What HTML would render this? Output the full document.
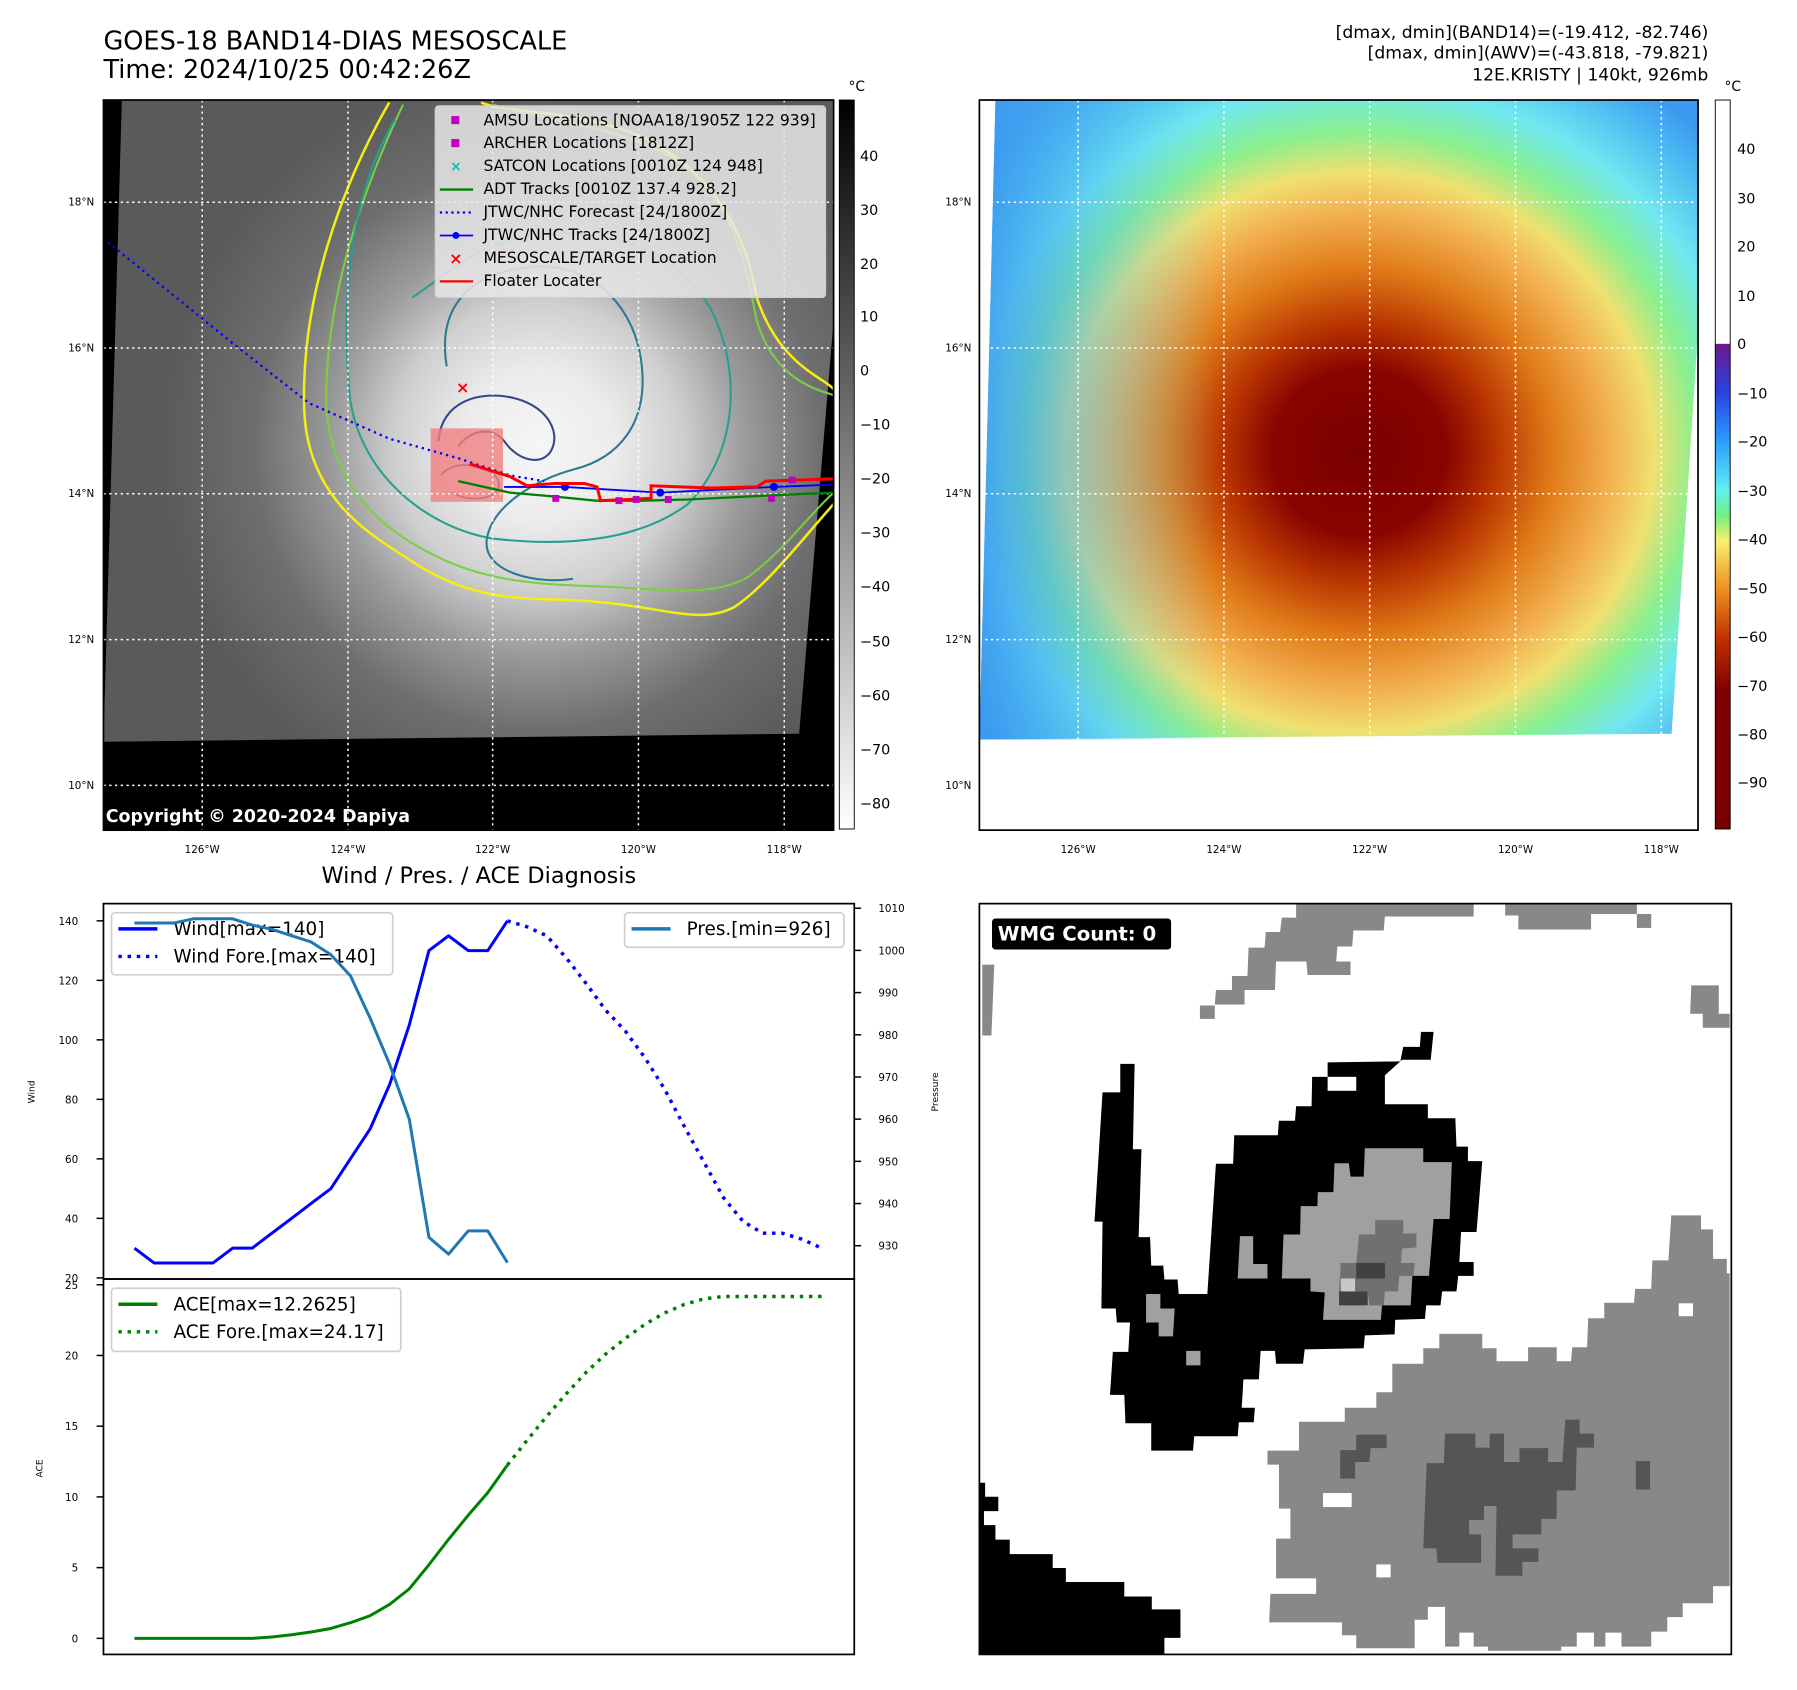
<!DOCTYPE html>
<html><head><meta charset="utf-8"><title>GOES-18 BAND14 KRISTY</title>
<style>
html,body{margin:0;padding:0;background:#fff;}
svg{display:block;font-family:"DejaVu Sans","Liberation Sans",sans-serif;}
</style></head>
<body>
<svg id="root" xmlns="http://www.w3.org/2000/svg" width="1797" height="1690" viewBox="0 0 1797 1690">
<defs>
<radialGradient id="irGray" gradientUnits="userSpaceOnUse" cx="470" cy="390" r="330">
<stop offset="0" stop-color="#f6f6f6"/><stop offset="0.2" stop-color="#ececec"/><stop offset="0.38" stop-color="#cfcfcf"/><stop offset="0.55" stop-color="#9a9a9a"/><stop offset="0.75" stop-color="#6e6e6e"/><stop offset="1" stop-color="#5a5a5a"/>
</radialGradient>
<radialGradient id="irColor" gradientUnits="userSpaceOnUse" cx="1185" cy="395" r="400" gradientTransform="translate(1185 395) scale(1.05 1) translate(-1185 -395)">
<stop offset="0" stop-color="#7a0000"/><stop offset="0.18" stop-color="#880400"/><stop offset="0.28" stop-color="#b83400"/><stop offset="0.4" stop-color="#e07a18"/><stop offset="0.52" stop-color="#f2b050"/><stop offset="0.61" stop-color="#f0e070"/><stop offset="0.7" stop-color="#88f090"/><stop offset="0.8" stop-color="#70e8f0"/><stop offset="0.93" stop-color="#48b4f2"/><stop offset="1" stop-color="#3a98f0"/>
</radialGradient>
<linearGradient id="leftBlue" gradientUnits="userSpaceOnUse" x1="854" y1="0" x2="1060" y2="0">
<stop offset="0" stop-color="#3a98f0" stop-opacity="0.85"/><stop offset="1" stop-color="#60d8f0" stop-opacity="0"/>
</linearGradient>
<linearGradient id="cbGray" x1="0" y1="0" x2="0" y2="1"><stop offset="0" stop-color="#000"/><stop offset="1" stop-color="#fff"/></linearGradient>
<linearGradient id="cbColor" gradientUnits="userSpaceOnUse" x1="0" y1="88" x2="0" y2="723">
<stop offset="0" stop-color="#fff"/><stop offset="0.334" stop-color="#fff"/><stop offset="0.335" stop-color="#6a1a8a"/><stop offset="0.4" stop-color="#2a40e0"/><stop offset="0.47" stop-color="#2aa0ff"/><stop offset="0.535" stop-color="#60f0f0"/><stop offset="0.57" stop-color="#70f080"/><stop offset="0.605" stop-color="#f6f070"/><stop offset="0.67" stop-color="#f09020"/><stop offset="0.74" stop-color="#c03000"/><stop offset="0.81" stop-color="#800000"/><stop offset="1" stop-color="#7a0000"/>
</linearGradient>
</defs>
<g transform="translate(-1,-1) scale(1.148)">
<text x="91" y="44" font-size="22.3">GOES-18 BAND14-DIAS MESOSCALE</text>
<text x="91" y="69" font-size="22.3">Time: 2024/10/25 00:42:26Z</text>
<g font-size="15" text-anchor="end">
<text x="1489" y="34">[dmax, dmin](BAND14)=(-19.412, -82.746)</text>
<text x="1489" y="52">[dmax, dmin](AWV)=(-43.818, -79.821)</text>
<text x="1489" y="71">12E.KRISTY | 140kt, 926mb</text>
</g>

<g>
<clipPath id="c1"><rect x="91" y="88" width="636" height="636"/></clipPath>
<rect x="91" y="88" width="636" height="636" fill="#000"/>
<g clip-path="url(#c1)">
<polygon points="107,88 727,88 727,280 697,640 91,647" fill="url(#irGray)"/>
<g fill="none" stroke-linejoin="round">
<path d="M340,90 C300,160 262,260 266,360 C270,440 330,470 360,490 C420,530 470,520 520,525 C580,530 610,545 640,530 C670,510 700,470 727,440 M420,90 C440,100 500,95 560,120 C620,150 650,200 660,260 C680,320 720,330 727,340" stroke="#f5ee10" stroke-width="2.2"/>
<path d="M352,92 C315,170 285,260 285,350 C288,430 340,465 380,485 C430,510 480,510 530,512 C585,515 620,520 650,505 C680,485 705,450 727,430 M430,92 C470,105 540,110 590,140 C640,175 650,230 660,280 C675,330 710,340 727,345" stroke="#7ad040" stroke-width="1.8"/>
<path d="M345,105 C300,180 300,280 305,340 C310,410 370,460 430,470 C500,478 560,470 600,440 C640,400 650,330 620,270 C590,220 540,200 470,205 C420,210 390,240 360,260" stroke="#25a090" stroke-width="1.8"/>
<path d="M390,320 C380,260 420,235 470,233 C520,232 555,270 560,320 C565,370 540,400 500,410 C470,418 430,440 425,470 C420,500 470,510 500,505" stroke="#2a7a90" stroke-width="1.8"/>
<path d="M383,385 C385,350 420,340 450,348 C480,356 490,380 480,395 C470,408 450,400 440,385 C430,372 410,375 400,390" stroke="#34478a" stroke-width="1.8"/>
<path d="M385,415 C395,400 430,405 435,420 C440,435 410,440 395,430" stroke="#34478a" stroke-width="1.6"/>
</g>
<rect x="376" y="374" width="63" height="64" fill="#f08080" opacity="0.8"/>
<g stroke="#fff" stroke-width="1.3" stroke-dasharray="2,3">
<line x1="91" y1="177" x2="727" y2="177"/><line x1="91" y1="304" x2="727" y2="304"/><line x1="91" y1="431" x2="727" y2="431"/><line x1="91" y1="558" x2="727" y2="558"/><line x1="91" y1="685" x2="727" y2="685"/>
<line x1="177" y1="88" x2="177" y2="724"/><line x1="304" y1="88" x2="304" y2="724"/><line x1="430" y1="88" x2="430" y2="724"/><line x1="557" y1="88" x2="557" y2="724"/><line x1="684" y1="88" x2="684" y2="724"/>
</g>
<polyline points="95,212 200,297 270,352 340,383 400,400 445,415 475,420" fill="none" stroke="#0000ff" stroke-width="2" stroke-dasharray="2,3.5"/>
<polyline points="400,420 445,430 480,433 520,437 560,437 600,436 640,434 680,432 727,430" fill="none" stroke="#008000" stroke-width="2"/>
<polyline points="440,425 493,425 576,430 675,425 727,423" fill="none" stroke="#0000ff" stroke-width="1.6"/>
<g fill="#0000ff"><circle cx="493" cy="425" r="3.5"/><circle cx="576" cy="430" r="3.5"/><circle cx="675" cy="425" r="3.5"/></g>
<polyline points="410,405 445,416 460,424 484,422 510,422 521,425 524,437 568,435 568,424 620,426 660,425 668,420 727,418" fill="none" stroke="#ff0000" stroke-width="2.6"/>
<g fill="#c000c0"><rect x="482" y="432" width="6" height="6"/><rect x="537" y="434" width="6" height="6"/><rect x="552" y="433" width="6" height="6"/><rect x="580" y="433" width="6" height="6"/><rect x="670" y="432" width="6" height="6"/><rect x="688" y="416" width="6" height="6"/></g>
<text x="404" y="343" font-size="14" font-weight="bold" fill="#ff0000" text-anchor="middle">×</text>
</g>
<text x="93" y="717" font-size="15.2" font-weight="bold" fill="#fff">Copyright © 2020-2024 Dapiya</text>
<rect x="91" y="88" width="636" height="636" fill="none" stroke="#000" stroke-width="1.5"/>
<g>
<rect x="380" y="93" width="340" height="167" rx="3" fill="#e8e8e8" fill-opacity="0.85" stroke="#d0d0d0"/>
<g font-size="13.6">
<rect x="394" y="102" width="7" height="7" fill="#c000c0"/><text x="422" y="110">AMSU Locations [NOAA18/1905Z 122 939]</text>
<rect x="394" y="122" width="7" height="7" fill="#c000c0"/><text x="422" y="130">ARCHER Locations [1812Z]</text>
<text x="398" y="150" fill="#00c0c0" text-anchor="middle" font-weight="bold" font-size="12">×</text><text x="422" y="150">SATCON Locations [0010Z 124 948]</text>
<line x1="384" y1="166" x2="413" y2="166" stroke="#008000" stroke-width="2"/><text x="422" y="170">ADT Tracks [0010Z 137.4 928.2]</text>
<line x1="384" y1="186" x2="413" y2="186" stroke="#0000ff" stroke-width="2" stroke-dasharray="2,3"/><text x="422" y="190">JTWC/NHC Forecast [24/1800Z]</text>
<line x1="384" y1="206" x2="413" y2="206" stroke="#0000ff" stroke-width="1.6"/><circle cx="398" cy="206" r="3" fill="#0000ff"/><text x="422" y="210">JTWC/NHC Tracks [24/1800Z]</text>
<text x="398" y="231" fill="#ff0000" text-anchor="middle" font-weight="bold" font-size="14">×</text><text x="422" y="230">MESOSCALE/TARGET Location</text>
<line x1="384" y1="246" x2="413" y2="246" stroke="#ff0000" stroke-width="2"/><text x="422" y="250">Floater Locater</text>
</g></g>
<g font-size="9">
<g text-anchor="end"><text x="83" y="180">18°N</text><text x="83" y="307">16°N</text><text x="83" y="434">14°N</text><text x="83" y="561">12°N</text><text x="83" y="688">10°N</text></g>
<g text-anchor="middle"><text x="177" y="744">126°W</text><text x="304" y="744">124°W</text><text x="430" y="744">122°W</text><text x="557" y="744">120°W</text><text x="684" y="744">118°W</text></g>
</g>
</g>
<g>
<rect x="732" y="88" width="13" height="635" fill="url(#cbGray)" stroke="#000" stroke-width="0.8"/>
<text x="740" y="80" font-size="12">°C</text>
<g font-size="12.5"><text x="750" y="141">40</text><text x="750" y="188">30</text><text x="750" y="235">20</text><text x="750" y="281">10</text><text x="750" y="328">0</text><text x="750" y="375">−10</text><text x="750" y="422">−20</text><text x="750" y="469">−30</text><text x="750" y="516">−40</text><text x="750" y="564">−50</text><text x="750" y="611">−60</text><text x="750" y="658">−70</text><text x="750" y="705">−80</text></g>
</g>

<g>
<polygon points="868,88 1480,88 1480,290 1457,640 854,645" fill="url(#irColor)"/>
<polygon points="868,88 1060,88 1060,645 854,645" fill="url(#leftBlue)"/>
<g stroke="#fff" stroke-width="1.3" stroke-dasharray="2,3">
<line x1="854" y1="177" x2="1480" y2="177"/><line x1="854" y1="304" x2="1480" y2="304"/><line x1="854" y1="431" x2="1480" y2="431"/><line x1="854" y1="558" x2="1480" y2="558"/>
<line x1="940" y1="88" x2="940" y2="645"/><line x1="1067" y1="88" x2="1067" y2="645"/><line x1="1194" y1="88" x2="1194" y2="645"/><line x1="1321" y1="88" x2="1321" y2="645"/><line x1="1448" y1="88" x2="1448" y2="645"/>
</g>
<rect x="854" y="88" width="626" height="636" fill="none" stroke="#000" stroke-width="1.5"/>
<g font-size="9">
<g text-anchor="end"><text x="847" y="180">18°N</text><text x="847" y="307">16°N</text><text x="847" y="434">14°N</text><text x="847" y="561">12°N</text><text x="847" y="688">10°N</text></g>
<g text-anchor="middle"><text x="940" y="744">126°W</text><text x="1067" y="744">124°W</text><text x="1194" y="744">122°W</text><text x="1321" y="744">120°W</text><text x="1448" y="744">118°W</text></g>
</g>
</g>
<g>
<rect x="1495" y="88" width="13" height="635" fill="url(#cbColor)" stroke="#000" stroke-width="0.8"/>
<text x="1503" y="80" font-size="12">°C</text>
<g font-size="12.5"><text x="1514" y="135">40</text><text x="1514" y="178">30</text><text x="1514" y="220">20</text><text x="1514" y="263">10</text><text x="1514" y="305">0</text><text x="1514" y="348">−10</text><text x="1514" y="390">−20</text><text x="1514" y="433">−30</text><text x="1514" y="475">−40</text><text x="1514" y="518">−50</text><text x="1514" y="560">−60</text><text x="1514" y="603">−70</text><text x="1514" y="645">−80</text><text x="1514" y="687">−90</text></g>
</g>

<text x="418" y="770" font-size="19.5" text-anchor="middle">Wind / Pres. / ACE Diagnosis</text>
<g id="chart"></g>

<g>
<rect x="854" y="788" width="655" height="654" fill="#fff"/>
<g transform="translate(854,788) scale(0.4989,0.4504) translate(-137,-45)" stroke="none">
<polygon fill="#888" points="690,45 1000,45 1000,70 845,70 843,97 790,97 788,128 762,128 760,157 785,157 785,183 710,183 708,157 655,157 653,212 600,212 600,240 548,240 548,268 522,268 522,242 548,242 550,212 578,212 578,185 605,185 607,130 635,130 637,100 662,100 665,72 690,72"/>
<polygon fill="#888" points="1055,45 1285,45 1285,65 1205,65 1205,95 1078,95 1078,68 1055,68"/>
<rect fill="#888" x="1285" y="65" width="25" height="27"/>
<polygon fill="#888" points="1380,203 1428,203 1428,258 1447,258 1447,285 1400,285 1400,258 1378,258"/>
<polygon fill="#888" points="142,163 163,163 158,300 142,300"/>
<polygon fill="#888" points="1345,648 1397,648 1397,675 1418,675 1418,732 1442,732 1442,760 1447,760 1447,1365 1418,1365 1418,1398 1365,1398 1365,1425 1338,1425 1338,1453 1310,1453 1310,1482 1258,1482 1258,1455 1230,1455 1230,1482 1210,1482 1210,1455 1180,1455 1180,1482 1153,1482 1153,1490 1025,1490 1025,1482 1000,1482 1000,1455 975,1455 975,1482 950,1482 950,1405 920,1405 920,1430 897,1430 897,1485 795,1485 795,1460 770,1460 770,1435 643,1435 645,1380 725,1380 725,1350 655,1350 655,1273 680,1273 680,1215 660,1215 660,1130 640,1130 640,1103 695,1103 695,1047 775,1047 775,1020 830,1020 830,990 858,990 858,935 912,935 912,905 940,905 940,877 1015,877 1015,905 1040,905 1040,930 1095,930 1095,903 1145,903 1145,930 1170,930 1172,903 1198,903 1200,847 1228,847 1228,817 1280,817 1282,790 1310,790 1312,735 1340,735"/>
<rect fill="#fff" x="737" y="1185" width="50" height="27"/><rect fill="#fff" x="1358" y="818" width="25" height="25"/><rect fill="#fff" x="830" y="1323" width="25" height="25"/>
<polygon fill="#555" points="950,1070 1003,1070 1003,1097 1028,1097 1028,1070 1053,1070 1053,1125 1080,1125 1080,1098 1130,1098 1130,1125 1155,1125 1160,1043 1185,1043 1185,1070 1210,1070 1210,1097 1180,1097 1178,1180 1145,1180 1145,1235 1118,1235 1118,1265 1068,1265 1068,1292 1113,1292 1113,1318 1085,1318 1085,1345 1038,1345 1040,1210 1018,1210 1018,1237 992,1237 992,1265 1013,1265 1013,1320 937,1320 935,1292 912,1292 918,1127 948,1127"/>
<polygon fill="#555" points="795,1072 848,1072 848,1098 820,1098 818,1125 793,1125 793,1157 767,1157 767,1102 795,1102"/>
<rect fill="#555" x="1283" y="1123" width="25" height="55"/>
<polygon fill="#000" points="352,410 383,410 383,355 408,355 405,520 420,520 415,690 435,690 437,745 458,745 460,772 483,772 485,800 535,800 550,548 580,548 582,493 658,493 660,465 688,465 690,437 717,437 718,380 745,380 745,352 872,350 877,322 906,322 908,293 930,293 925,347 875,347 845,377 845,433 920,433 920,460 968,460 970,515 990,515 990,543 1015,543 1005,680 978,680 975,738 1000,738 1000,765 973,765 970,795 945,795 942,822 917,822 915,848 863,850 862,878 810,880 808,905 705,907 702,935 655,935 653,910 628,910 625,965 598,965 595,1020 618,1020 616,1048 590,1048 588,1075 512,1075 510,1103 437,1103 437,1050 392,1050 390,995 365,995 370,912 397,912 400,855 377,855 375,828 350,828 352,660 338,660"/>
<rect fill="#fff" x="745" y="380" width="50" height="27"/>
<polygon fill="#a0a0a0" points="810,518 912,518 912,545 962,545 958,655 930,655 922,765 893,765 890,822 840,822 838,850 737,850 740,797 715,795 715,770 665,770 668,685 697,685 698,630 727,630 728,603 755,603 757,547 782,547 785,573 808,573"/>
<polygon fill="#707070" points="828,657 877,657 877,683 900,683 900,710 875,712 873,740 897,740 895,765 870,765 868,795 845,795 843,822 818,822 815,795 765,795 768,740 795,740 800,685 828,685"/>
<rect fill="#404040" x="795" y="740" width="50" height="30"/><rect fill="#404040" x="765" y="795" width="50" height="27"/><rect fill="#c8c8c8" x="768" y="770" width="25" height="25"/>
<polygon fill="#a0a0a0" points="592,688 615,688 615,742 640,742 640,770 588,770"/>
<polygon fill="#a0a0a0" points="428,800 453,800 453,828 478,828 475,882 450,882 450,855 428,855"/>
<rect fill="#a0a0a0" x="498" y="910" width="25" height="28"/>
<polygon fill="#000" points="137,1165 147,1165 147,1192 170,1192 170,1220 145,1220 145,1247 165,1247 165,1275 190,1275 190,1303 265,1303 265,1330 288,1330 288,1357 390,1357 390,1385 438,1385 438,1410 488,1410 488,1465 460,1465 460,1497 137,1497"/>
</g>
<rect x="865" y="801" width="156" height="27" rx="3" fill="#000"/>
<text x="870" y="820" font-size="17.2" font-weight="bold" fill="#fff">WMG Count: 0</text>
<rect x="854" y="788" width="655" height="654" fill="none" stroke="#000" stroke-width="1.5"/>
</g>
</g>
</svg>
<script>
var obsIndex = [0,1,2,3,4,5,6,7,8,9,10,11,12,13,14,15,16,17,18,19];
var windObs = [30,25,25,25,25,30,30,35,40,45,50,60,70,85,105,130,135,130,130,140];
var presObs = [1006.5,1006.5,1006.5,1007.5,1007.5,1007.5,1006,1005,1003.5,1002,999,994,984,973,960,932,928,933.5,933.5,926];
var aceObs = [0,0,0,0,0,0,0,0.1,0.25,0.45,0.7,1.1,1.6,2.4,3.5,5.2,7.0,8.7,10.3,12.26];
var foreIndex = [19,20,21,22,23,24,25,26,27,28,29,30,31,32,33,34,35];
var windFore = [140,138,135,127.5,119,110,103,94,83.5,71,59,47,39,35,35,33,30];
var aceFore = [12.26,14.0,15.7,17.3,18.8,20.1,21.2,22.2,23.0,23.6,24.0,24.17,24.17,24.17,24.17,24.17,24.17];
var windTicks = [20,40,60,80,100,120,140];
var presTicks = [930,940,950,960,970,980,990,1000,1010];
var aceTicks = [0,5,10,15,20,25];

var NS = 'http://www.w3.org/2000/svg';
var chart = document.getElementById('chart');
function X(i){ return 118 + i * 17.1; }
function YW(v){ return 1114 - (v - 20) * (311 / 120); }
function YP(p){ return 792 + (1010 - p) * 3.675; }
function YA(a){ return 1428 - a * (308 / 25); }
function mk(tag, attrs){ var e = document.createElementNS(NS, tag); for (var k in attrs) e.setAttribute(k, attrs[k]); chart.appendChild(e); return e; }
function pts(ix, vals, fy){ return ix.map(function(i, k){ return X(i).toFixed(1) + ',' + fy(vals[k]).toFixed(1); }).join(' '); }

var ax1 = mk('rect', {x: 91, y: 788, width: 654, height: 327, fill: 'none', stroke: '#000', 'stroke-width': 1.5});


var ax2 = mk('rect', {x: 91, y: 1115, width: 654, height: 327, fill: 'none', stroke: '#000', 'stroke-width': 1.5});



windTicks.forEach(function(v){
  var y = YW(v);
  var t = mk('line', {x1: 85, x2: 91, y1: y, y2: y, stroke: '#000', 'stroke-width': 1.3});
  
  
  var l = mk('text', {x: 69, y: y + 3.5, 'font-size': 9, 'text-anchor': 'end'});
  l.textContent = v;
  
  
});
presTicks.forEach(function(p){
  var y = YP(p);
  var t = mk('line', {x1: 745, x2: 751, y1: y, y2: y, stroke: '#000', 'stroke-width': 1.3});
  
  
  var l = mk('text', {x: 766, y: y + 3.5, 'font-size': 9});
  l.textContent = p;
  
  
});
aceTicks.forEach(function(a){
  var y = YA(a);
  var t = mk('line', {x1: 85, x2: 91, y1: y, y2: y, stroke: '#000', 'stroke-width': 1.3});
  
  
  var l = mk('text', {x: 69, y: y + 3.5, 'font-size': 9, 'text-anchor': 'end'});
  l.textContent = a;
  
  
});
var yl1 = mk('text', {x: 0, y: 0, 'font-size': 8, 'text-anchor': 'middle', transform: 'translate(31,952) rotate(-90)'});
yl1.textContent = 'Wind';


var yl2 = mk('text', {x: 0, y: 0, 'font-size': 8, 'text-anchor': 'middle', transform: 'translate(818,952) rotate(-90)'});
yl2.textContent = 'Pressure';


var yl3 = mk('text', {x: 0, y: 0, 'font-size': 8, 'text-anchor': 'middle', transform: 'translate(38,1280) rotate(-90)'});
yl3.textContent = 'ACE';



var wl = mk('polyline', {points: pts(obsIndex, windObs, YW), fill: 'none', stroke: '#0000ff', 'stroke-width': 2.6, 'stroke-linejoin': 'round'});


var wf = mk('polyline', {points: pts(foreIndex, windFore, YW), fill: 'none', stroke: '#0000ff', 'stroke-width': 3, 'stroke-dasharray': '3,5'});


var pl = mk('polyline', {points: pts(obsIndex, presObs, YP), fill: 'none', stroke: '#1f77b4', 'stroke-width': 2.6, 'stroke-linejoin': 'round'});


var al = mk('polyline', {points: pts(obsIndex, aceObs, YA), fill: 'none', stroke: '#008000', 'stroke-width': 2.6, 'stroke-linejoin': 'round'});


var af = mk('polyline', {points: pts(foreIndex, aceFore, YA), fill: 'none', stroke: '#008000', 'stroke-width': 3, 'stroke-dasharray': '3,5'});



function legend(x, y, w, h, items, name){
  var b = mk('rect', {x: x, y: y, width: w, height: h, rx: 3, fill: '#fff', 'fill-opacity': 0.8, stroke: '#d0d0d0', 'stroke-width': 1.5});
  
  
  items.forEach(function(it, k){
    var yy = y + 14 + k * 24;
    var ln = mk('line', {x1: x + 6, x2: x + 40, y1: yy, y2: yy, stroke: it.c, 'stroke-width': 3, 'stroke-dasharray': it.d || 'none'});
    
    
    var tx = mk('text', {x: x + 54, y: yy + 5.5, 'font-size': 16});
    tx.textContent = it.t;
    
    
  });
}
legend(98, 796, 245, 54, [{c: '#0000ff', t: 'Wind[max=140]'}, {c: '#0000ff', d: '3,5', t: 'Wind Fore.[max=140]'}], 'wind-legend');
legend(545, 796, 191, 30, [{c: '#1f77b4', t: 'Pres.[min=926]'}], 'pressure-legend');
legend(98, 1123, 252, 55, [{c: '#008000', t: 'ACE[max=12.2625]'}, {c: '#008000', d: '3,5', t: 'ACE Fore.[max=24.17]'}], 'ace-legend');
chart.appendChild(pl);
</script>
</body></html>
